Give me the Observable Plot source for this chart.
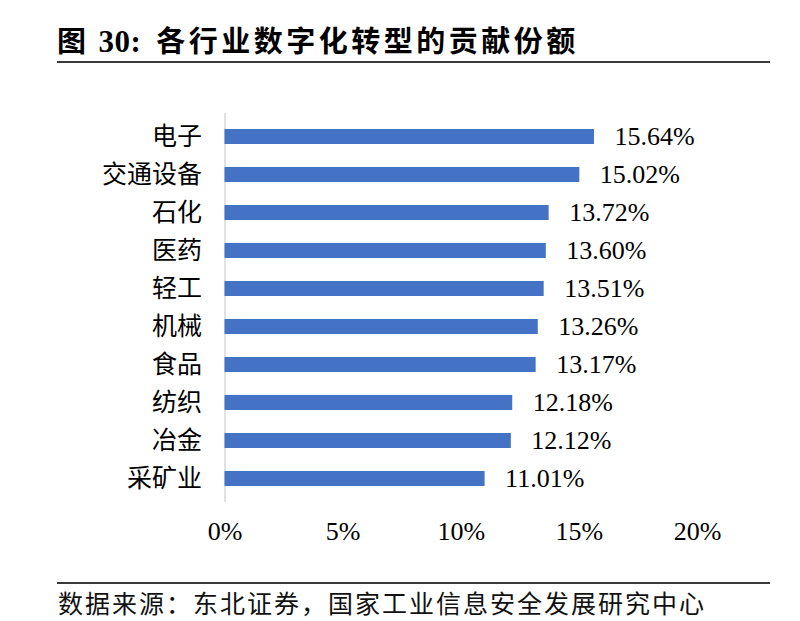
<!DOCTYPE html>
<html>
<head>
<meta charset="utf-8">
<script src="https://cdn.jsdelivr.net/npm/d3@7"></script>
<script src="https://cdn.jsdelivr.net/npm/@observablehq/plot@0.6"></script>
<style>
  html, body { margin: 0; padding: 0; background: #fff; }
  #wrap { width: 800px; height: 621px; position: relative; }
  #title {
    position: absolute; left: 57px; top: 0; width: 713px; height: 63px;
    box-sizing: border-box; border-bottom: 2px solid #3a3a3a;
    font-family: "Liberation Serif", "Noto Sans CJK SC", serif; font-weight: bold;
    font-size: 29px; line-height: 30px; padding-top: 27px; padding-left: 0px; color: #000;
    letter-spacing: 3.5px; white-space: nowrap;
  }
  #title .num { margin-left: 9px; font-size: 31px; letter-spacing: 0.5px; }
  #title .txt { margin-left: 15px; }
  #chart { position: absolute; left: 0; top: 64px; }
  #source {
    position: absolute; left: 57px; top: 582px; width: 713px;
    box-sizing: border-box; border-top: 2px solid #3a3a3a;
    font-family: "Noto Sans CJK SC", sans-serif; font-size: 25px; line-height: 25px;
    padding-top: 6px; padding-left: 1px; color: #111; letter-spacing: 2px; white-space: nowrap;
  }
</style>
</head>
<body>
<div id="wrap">
  <div id="title"><span>图</span><span class="num">30:</span><span class="txt">各行业数字化转型的贡献份额</span></div>
  <div id="chart"></div>
  <div id="source">数据来源：东北证券，国家工业信息安全发展研究中心</div>
</div>
<script>
const categories = ["电子", "交通设备", "石化", "医药", "轻工", "机械", "食品", "纺织", "冶金", "采矿业"];
const values = [15.64, 15.02, 13.72, 13.60, 13.51, 13.26, 13.17, 12.18, 12.12, 11.01];
const xTicks = [0, 5, 10, 15, 20];

const data = categories.map((c, i) => ({ category: c, value: values[i] }));

const chart = Plot.plot({
  width: 800,
  height: 518,
  marginLeft: 224.5,
  marginRight: 103,
  marginTop: 49,
  marginBottom: 80,
  style: { background: "#fff", color: "#000" },
  x: { domain: [0, 20] },
  y: { domain: categories, paddingInner: 0.6, paddingOuter: 0.3 },
  marks: [
    Plot.ruleX([0], { stroke: "#d9d9d9", strokeWidth: 1.5 }),
    Plot.barX(data, { x: "value", y: "category", fill: "#4472C4" }),
    Plot.text(data, {
      x: "value", y: "category", text: d => d.value.toFixed(2) + "%",
      textAnchor: "start", dx: 20, fontSize: 26, fill: "#000",
      fontFamily: "Liberation Serif, serif"
    }),
    Plot.axisY({
      tickSize: 0, tickPadding: 23, label: null, fontSize: 25,
      fontFamily: "Noto Sans CJK SC, sans-serif", fill: "#000",
      style: { letterSpacing: "1.5px" }
    }),
    Plot.axisX({
      ticks: xTicks, tickFormat: d => d + "%", tickSize: 0, tickPadding: 19,
      label: null, fontSize: 26, fontFamily: "Liberation Serif, serif", fill: "#000"
    })
  ]
});
document.getElementById("chart").appendChild(chart);
</script>
</body>
</html>
